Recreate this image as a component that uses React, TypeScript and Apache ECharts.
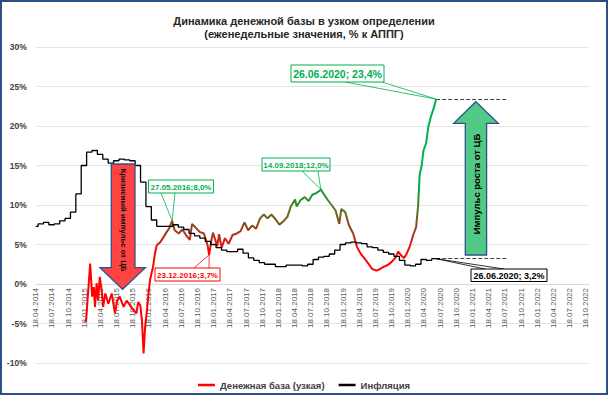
import React, { useEffect, useRef } from "react";
import * as echarts from "echarts";

// ---- Data ----
const moneyBaseDates = [
  "2015-01-28", "2015-02-21", "2015-03-02", "2015-03-11", "2015-03-18", "2015-03-27", "2015-04-05", "2015-04-14",
  "2015-04-24", "2015-05-03", "2015-05-15", "2015-06-02", "2015-06-21", "2015-07-09", "2015-07-21", "2015-08-05",
  "2015-08-27", "2015-09-14", "2015-10-03", "2015-10-21", "2015-11-08", "2015-11-18", "2015-11-30", "2015-12-09",
  "2015-12-18", "2015-12-27", "2016-01-05", "2016-01-14", "2016-01-24", "2016-02-11", "2016-02-21", "2016-03-01",
  "2016-03-21", "2016-04-08", "2016-04-27", "2016-05-10", "2016-05-27", "2016-06-11", "2016-07-03", "2016-07-24",
  "2016-08-14", "2016-09-05", "2016-09-18", "2016-10-09", "2016-10-30", "2016-11-24", "2016-12-15", "2016-12-23",
  "2017-01-05", "2017-01-14", "2017-02-08", "2017-02-18", "2017-03-02", "2017-03-21", "2017-04-11", "2017-05-03",
  "2017-05-27", "2017-06-18", "2017-07-09", "2017-07-30", "2017-08-21", "2017-09-14", "2017-10-06", "2017-10-27",
  "2017-11-18", "2017-12-09", "2018-01-02", "2018-01-24", "2018-02-14", "2018-03-08", "2018-03-27", "2018-04-21",
  "2018-04-30", "2018-05-21", "2018-06-14", "2018-07-06", "2018-07-27", "2018-08-18", "2018-09-08", "2018-09-14",
  "2018-09-30", "2018-10-24", "2018-11-14", "2018-12-06", "2018-12-27", "2019-01-08", "2019-01-30", "2019-02-21",
  "2019-03-14", "2019-04-05", "2019-04-27", "2019-05-18", "2019-06-08", "2019-06-30", "2019-07-24", "2019-08-14",
  "2019-09-05", "2019-09-27", "2019-10-18", "2019-11-12", "2019-11-24", "2019-12-12", "2019-12-27", "2020-01-11",
  "2020-01-30", "2020-02-18", "2020-03-04", "2020-03-15", "2020-03-24", "2020-04-05", "2020-04-15", "2020-04-30",
  "2020-05-12", "2020-05-27", "2020-06-11", "2020-06-26",
];
const moneyBaseValues = [
  -4.8, 2.6, -1.6, -0.4, -2.9, 0.1, -2.1, 0.9,
  -0.6, -2.9, -1.2, -2.5, -1.2, -3.7, -2.1, -1.6,
  -2.9, -2.1, -2.7, -3.3, -3.7, -2.3, -2.7, -4.6,
  -8.8, -5.4, -3.7, -1.6, 0.5, 2.2, 3.8, 4.9,
  5.3, 5.9, 6.6, 7.0, 8.0, 6.8, 6.4, 6.9,
  6.2, 5.6, 7.6, 7.1, 6.6, 6.4, 4.8, 3.7,
  5.5, 6.5, 4.8, 6.3, 4.6, 5.8, 5.1, 6.2,
  6.4, 6.7, 7.8, 6.8, 7.4, 7.0, 8.3, 8.8,
  8.3, 8.8, 8.2, 7.5, 7.9, 8.5, 9.8, 10.7,
  9.8, 10.6, 11.0, 10.5, 11.3, 11.5, 11.8, 12.0,
  11.4, 10.6, 10.0, 9.3, 7.6, 9.5, 9.1, 7.4,
  6.4, 4.7, 3.8, 3.2, 2.6, 1.9, 1.7, 1.9,
  2.2, 2.4, 2.8, 3.4, 4.1, 3.6, 3.3, 3.8,
  4.8, 6.2, 7.2, 9.8, 13.8, 15.0, 16.9, 17.8,
  19.9, 21.2, 22.2, 23.4,
];

// monthly inflation, starting April 2014
const inflationStart = [2014, 4];
const inflationValues = [
  7.3, 7.6, 7.8, 7.5, 7.6, 8.0, 8.3, 9.1, 11.4,
  15.0, 16.7, 16.9, 16.4, 15.8, 15.3, 15.6, 15.8, 15.7, 15.6, 15.0, 12.9,
  9.8, 8.1, 7.3, 7.3, 7.3, 7.5, 7.2, 6.9, 6.4, 6.1, 5.8, 5.4,
  5.0, 4.6, 4.3, 4.1, 4.1, 4.4, 3.9, 3.3, 3.0, 2.7, 2.5, 2.5,
  2.2, 2.2, 2.4, 2.4, 2.4, 2.3, 2.5, 3.1, 3.4, 3.5, 3.8, 4.3,
  5.0, 5.2, 5.3, 5.2, 5.1, 4.7, 4.6, 4.3, 4.0, 3.8, 3.5, 3.0,
  2.4, 2.3, 2.5, 3.1, 3.0, 3.2,
];
const inflationEndDate = "2020-07-18";

const seriesNames = ["Денежная база (узкая)", "Инфляция"];
const titleLines = ["Динамика денежной базы в узком определении", "(еженедельные значения, % к АППГ)"];

const callouts = [
  { date: "2020-06-26", value: 23.4, text: "26.06.2020; 23,4%" },
  { date: "2016-05-27", value: 8.0, text: "27.05.2016;8,0%" },
  { date: "2016-12-23", value: 3.7, text: "23.12.2016;3,7%" },
  { date: "2018-09-14", value: 12.0, text: "14.09.2018;12,0%" },
  { date: "2020-06-26", value: 3.2, text: "26.06.2020; 3,2%" },
];

const arrowTexts = ["Кризисный импульс от ЦБ", "Импульс роста от ЦБ"];

// months since 18.04.2014
const toX = (s: string) => {
  const [y, m, d] = s.split("-").map(Number);
  return (y - 2014) * 12 + (m - 4) + (d - 18) / 30.44;
};

const FONT = "'Liberation Sans', Arial, sans-serif";

const Y_MIN = -10;
const Y_MAX = 30;
const GRID_TOP = 47;
const GRID_BOTTOM = 32;
const H = 395;

export default function App() {
  const ref = useRef<HTMLDivElement>(null);
  useEffect(() => {
    document.body.style.margin = "0";
    const chart = echarts.init(ref.current!, null, { renderer: "svg" });

    const mbData = moneyBaseDates.map((d, i) => [toX(d), moneyBaseValues[i]]);
    const inflData: number[][] = inflationValues.map((v, i) => {
      const mm = inflationStart[1] - 1 + i;
      const y = inflationStart[0] + Math.floor(mm / 12);
      const m = (mm % 12) + 1;
      const ds = i === 0 ? `${y}-${String(m).padStart(2, "0")}-18` : `${y}-${String(m).padStart(2, "0")}-01`;
      return [toX(ds), v];
    });
    inflData.push([toX(inflationEndDate), inflationValues[inflationValues.length - 1]]);

    const peakX = toX("2020-06-26");
    const dashEnd = 87.6;

    // distance from grid bottom to the zero line (x axis sits on 0%)
    const gridH = H - GRID_TOP - GRID_BOTTOM;
    const zeroOffset = -((0 - Y_MIN) / (Y_MAX - Y_MIN)) * gridH;

    chart.setOption({
      animation: false,
      backgroundColor: "#fff",
      textStyle: { fontFamily: FONT },
      title: {
        text: titleLines.join("\n"),
        left: "center",
        top: 9,
        textStyle: { fontSize: 11, fontWeight: "bold", color: "#262626", lineHeight: 13.6, fontFamily: FONT },
      },
      grid: { left: 35.7, right: 19, top: GRID_TOP, bottom: GRID_BOTTOM, containLabel: false, outerBoundsMode: "none" },
      legend: {
        data: seriesNames,
        top: 375,
        left: "center",
        icon: "rect",
        itemWidth: 17,
        itemHeight: 2.5,
        itemGap: 14,
        textStyle: { fontSize: 9.5, fontWeight: "bold", color: "#404040", fontFamily: FONT },
      },
      visualMap: {
        show: false,
        type: "continuous",
        seriesIndex: 0,
        dimension: 1,
        min: 4,
        max: 14,
        inRange: { color: ["#ff0000", "#c02a1c", "#8e461c", "#636a22", "#2f8c30", "#12a242", "#00b050"] },
      },
      xAxis: {
        type: "value",
        min: 0,
        max: 102.6,
        interval: 3,
        offset: zeroOffset,
        axisLine: { onZero: false, lineStyle: { color: "#d9d9d9" } },
        axisTick: { show: false },
        splitLine: { show: false },
        axisLabel: {
          rotate: 90,
          fontSize: 8,
          color: "#595959",
          margin: 4,
          fontFamily: FONT,
          formatter: (v: number) => {
            const q = v / 3;
            if (Math.abs(q - Math.round(q)) > 1e-6) return "";
            const mi = Math.round(v);
            const y = 2014 + Math.floor((3 + mi) / 12);
            const m = ((3 + mi) % 12) + 1;
            return `18.${String(m).padStart(2, "0")}.${y}`;
          },
        },
      },
      yAxis: {
        type: "value",
        min: Y_MIN,
        max: Y_MAX,
        interval: 5,
        axisLine: { show: false },
        axisTick: { show: false },
        splitLine: { lineStyle: { color: "#e4e4e4" } },
        axisLabel: { formatter: "{value}%", fontSize: 8.5, fontWeight: "bold", color: "#404040", margin: 9, fontFamily: FONT },
      },
      series: [
        {
          name: seriesNames[0],
          type: "line",
          data: mbData,
          symbol: "none",
          color: "#ff0000",
          lineStyle: { width: 2 },
          z: 3,
        },
        {
          name: seriesNames[1],
          type: "line",
          step: "end",
          data: inflData,
          symbol: "none",
          color: "#000000",
          lineStyle: { width: 1.3, color: "#000000" },
          z: 4,
          markLine: {
            silent: true,
            symbol: ["none", "none"],
            label: { show: false },
            lineStyle: { type: "dashed", color: "#404040", width: 1 },
            data: [
              [{ coord: [peakX, 23.4] }, { coord: [dashEnd, 23.4] }],
              [{ coord: [75.4, 3.2] }, { coord: [dashEnd, 3.2] }],
            ],
          },
        },
      ],
    });

    const px = (d: string, v: number) =>
      chart.convertToPixel({ xAxisIndex: 0, yAxisIndex: 0 }, [toX(d), v]) as number[];

    const boxes = [
      { x: 291, y: 65, w: 93, h: 17, color: "#00b050", fs: 10.5, from: [[345, 82], [382, 82]] },
      { x: 148.5, y: 180, w: 65, h: 13, color: "#00b050", fs: 8, from: [[161, 193], [175, 193]] },
      { x: 155, y: 268, w: 65, h: 13, color: "#ff0000", fs: 8, from: [[194, 268], [209, 268]] },
      { x: 262, y: 158, w: 68, h: 13, color: "#00b050", fs: 8, from: [[302, 171], [318, 171]] },
      { x: 471, y: 269, w: 76, h: 12.5, color: "#000000", fs: 9, from: [[485, 269], [504, 269]] },
    ];

    const g: any[] = [];
    callouts.forEach((c, i) => {
      const b = boxes[i];
      const a = px(c.date, c.value);
      b.from.forEach((f) => {
        g.push({ type: "line", z: 100, silent: true, shape: { x1: f[0], y1: f[1], x2: a[0], y2: a[1] }, style: { stroke: b.color, lineWidth: 0.8 } });
      });
      g.push({ type: "rect", z: 101, silent: true, shape: { x: b.x, y: b.y, width: b.w, height: b.h }, style: { fill: "#fff", stroke: b.color, lineWidth: 1 } });
      g.push({
        type: "text", z: 102, silent: true, x: b.x + b.w / 2, y: b.y + b.h / 2 + 0.5,
        style: { text: c.text, fill: b.color, font: `bold ${b.fs}px ${FONT}`, align: "center", verticalAlign: "middle" },
      });
    });

    // red "crisis" arrow
    g.push({
      type: "polygon", z: 110, silent: true,
      shape: { points: [[111.3, 164], [135, 164], [135, 267.7], [145.4, 267.7], [122.5, 289.3], [100, 267.7], [111.3, 267.7]] },
      style: { fill: "#ff4343", stroke: "#2f528f", lineWidth: 1.3 },
    });
    g.push({
      type: "text", z: 111, silent: true, x: 123, y: 220, rotation: -Math.PI / 2,
      style: { text: arrowTexts[0], fill: "#111", font: `bold 7.8px ${FONT}`, align: "center", verticalAlign: "middle" },
    });
    // green "growth" arrow
    g.push({
      type: "polygon", z: 110, silent: true,
      shape: { points: [[465.3, 255], [486.6, 255], [486.6, 123.3], [498.3, 123.3], [475.8, 101.7], [453.7, 123.3], [465.3, 123.3]] },
      style: { fill: "#52c985", stroke: "#2f528f", lineWidth: 1.3 },
    });
    g.push({
      type: "text", z: 111, silent: true, x: 476, y: 184, rotation: Math.PI / 2,
      style: { text: arrowTexts[1], fill: "#000", font: `bold 9.5px ${FONT}`, align: "center", verticalAlign: "middle" },
    });
    // outer border
    g.push({
      type: "rect", z: 120, silent: true, shape: { x: 1, y: 1, width: 606, height: 393 },
      style: { fill: "none", stroke: "#2c4f8a", lineWidth: 2 },
    });

    chart.setOption({ graphic: g });

    return () => chart.dispose();
  }, []);

  return <div ref={ref} style={{ position: "fixed", left: 0, top: 0, width: 608, height: 395 }} />;
}
